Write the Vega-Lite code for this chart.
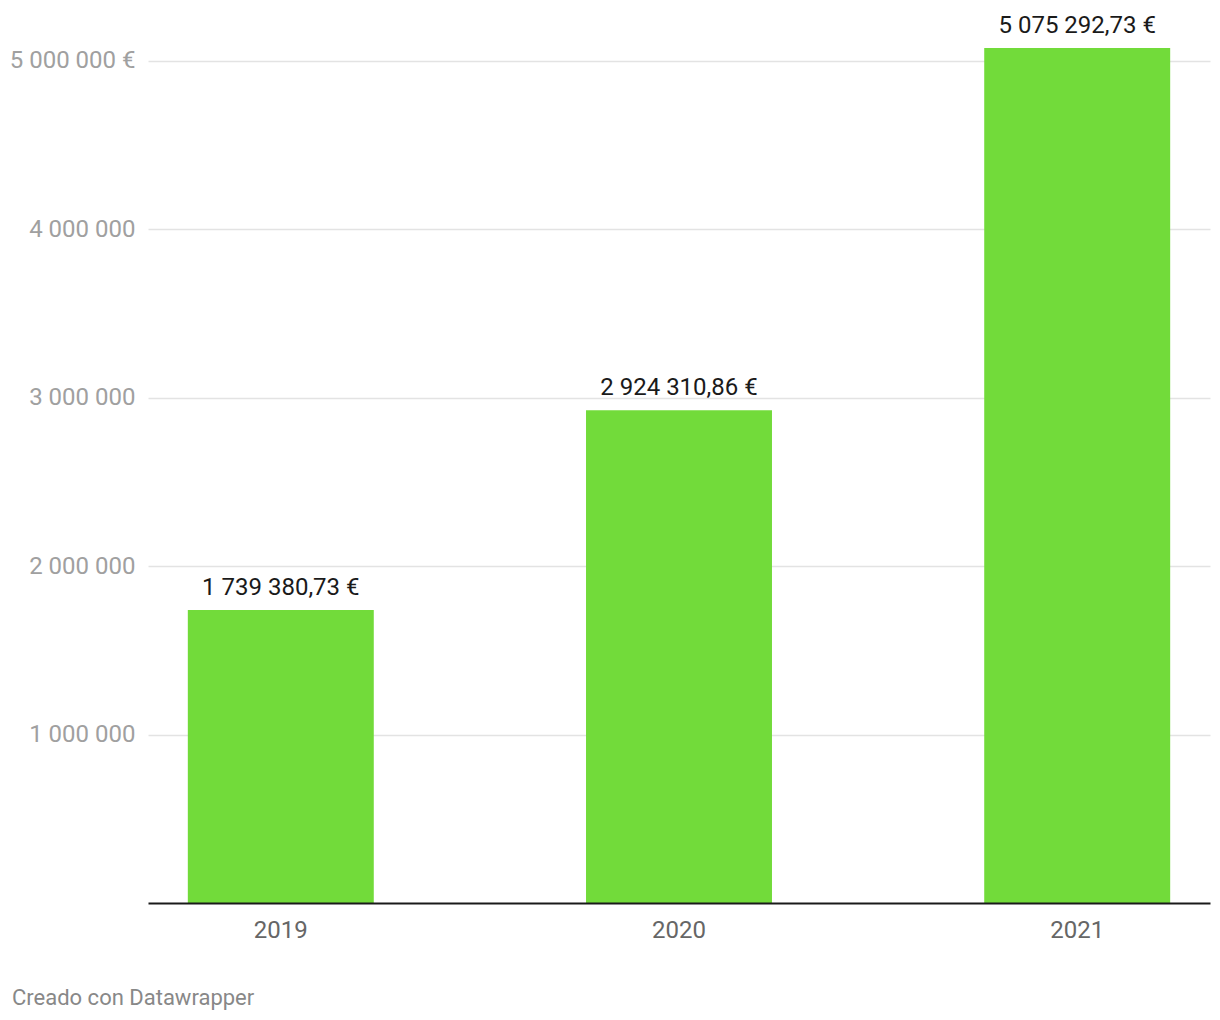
{
  "$schema": "https://vega.github.io/schema/vega-lite/v6.json",
  "autosize": {"type": "none"},
  "width": 1062,
  "height": 855,
  "padding": {"left": 148, "top": 48, "right": 10, "bottom": 117},
  "background": "white",
  "config": {
    "font": "Roboto",
    "view": {"stroke": null}
  },
  "title": {
    "text": "Creado con Datawrapper",
    "orient": "bottom",
    "anchor": "start",
    "frame": "group",
    "dx": -136,
    "offset": 46,
    "fontSize": 22,
    "fontWeight": "normal",
    "color": "#888888",
    "font": "Roboto"
  },
  "data": {
    "values": [
      {"year": "2019", "value": 1739380.73, "label": "1 739 380,73 €"},
      {"year": "2020", "value": 2924310.86, "label": "2 924 310,86 €"},
      {"year": "2021", "value": 5075292.73, "label": "5 075 292,73 €"}
    ]
  },
  "encoding": {
    "x": {
      "field": "year",
      "type": "nominal",
      "scale": {"paddingInner": 0.533, "paddingOuter": 0.1},
      "axis": {
        "title": null,
        "labelAngle": 0,
        "labelFontSize": 24,
        "labelColor": "#666666",
        "labelPadding": 15,
        "ticks": false,
        "domainColor": "#1a1a1a",
        "domainWidth": 2,
        "zindex": 1
      }
    },
    "y": {
      "field": "value",
      "type": "quantitative",
      "scale": {"domain": [0, 5075292.73], "nice": false},
      "axis": {
        "title": null,
        "values": [1000000, 2000000, 3000000, 4000000, 5000000],
        "labelExpr": "format(datum.value/1000000, 'd') + ' 000 000' + (datum.value == 5000000 ? ' €' : '')",
        "labelFontSize": 24,
        "labelColor": "#a0a0a0",
        "labelPadding": 13,
        "ticks": false,
        "domain": false,
        "gridColor": "#e3e3e3",
        "gridWidth": 1.5
      }
    }
  },
  "layer": [
    {
      "mark": {"type": "bar", "color": "#72db3a"}
    },
    {
      "mark": {"type": "text", "baseline": "bottom", "dy": -10, "fontSize": 24, "color": "#1a1a1a"},
      "encoding": {"text": {"field": "label"}}
    }
  ]
}
